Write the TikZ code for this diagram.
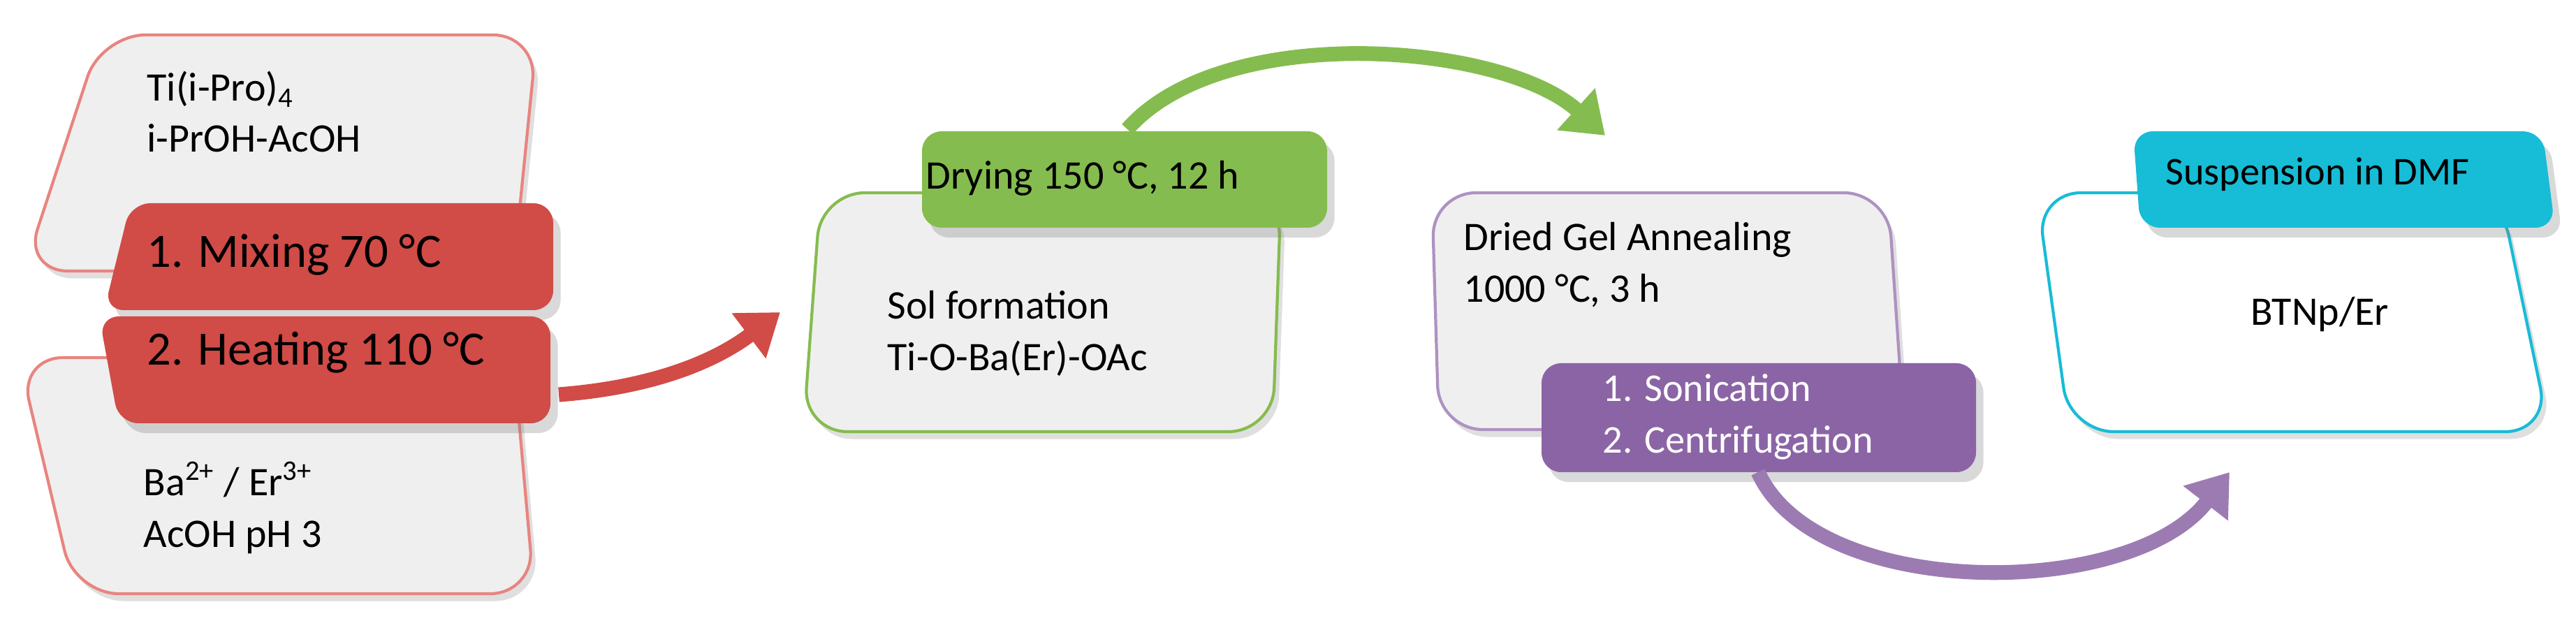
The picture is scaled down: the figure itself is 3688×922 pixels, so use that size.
\documentclass[tikz,border=0pt]{standalone}
\usepackage{fontspec}
\setmainfont{Carlito}
\usetikzlibrary{arrows.meta,shadows}
\definecolor{rd}{HTML}{D14B47}
\definecolor{rdl}{HTML}{E8847F}
\definecolor{gr}{HTML}{85BC4F}
\definecolor{pu}{HTML}{8B64A6}
\definecolor{cy}{HTML}{17BCD6}
\definecolor{bx}{HTML}{EFEFEF}
\tikzset{
 panel/.style={fill=bx,line width=1.2pt,rounded corners=18pt,drop shadow={shadow xshift=2pt,shadow yshift=-3pt,opacity=0.25}},
 tag/.style={line width=0pt,rounded corners=8pt,drop shadow={shadow xshift=3pt,shadow yshift=-4pt,opacity=0.3}},
 txt/.style={font=\fontsize{16.5}{21}\selectfont,anchor=west,inner sep=0pt,align=left},
 btxt/.style={font=\fontsize{19.5}{24}\selectfont,anchor=west,inner sep=0pt,align=left},
 stxt/.style={font=\fontsize{16}{21}\selectfont,inner sep=0pt,align=left},
 flow/.style={line width=6pt,-{Triangle[length=16pt,width=22pt]}}
}
\begin{document}
\begin{tikzpicture}[x=0.01cm,y=-0.01cm]
\useasboundingbox (0,0) rectangle (3688,922);
% left panels
\draw[panel,draw=rdl] (145,50) -- (769,50) -- (735,388) -- (34,388) -- cycle;
\draw[panel,draw=rdl] (27,512) -- (735,512) -- (765,850) -- (107,850) -- cycle;
\fill[tag,rd] (187,291) -- (792,291) -- (792,444) -- (149,444) -- cycle;
\fill[tag,rd] (142,453) -- (788,453) -- (788,606) -- (170,606) -- cycle;
\node[txt] (ti) at (210,160) {Ti(i-Pro)\textsubscript{4}\\i-PrOH-AcOH};
\node[btxt] (mix) at (210,365) {1. Mixing 70 °C};
\node[btxt] (heat) at (210,505) {2. Heating 110 °C};
\node[txt] (ba) at (205,727) {Ba\textsuperscript{2+} / Er\textsuperscript{3+}\\AcOH pH 3};
% sol panel
\draw[panel,draw=gr] (1175,276) -- (1834,276) -- (1822,618) -- (1150,618) -- cycle;
\fill[tag,gr] (1320,188) -- (1900,188) -- (1900,326) -- (1320,326) -- cycle;
\node[txt] (dry) at (1325,255) {Drying 150 °C, 12 h};
\node[txt] (sol) at (1270,477) {Sol formation\\Ti-O-Ba(Er)-OAc};
% gel panel
\draw[panel,draw=pu!70] (2050,276) -- (2703,276) -- (2726,615) -- (2060,615) -- cycle;
\fill[tag,pu] (2207,520) -- (2829,520) -- (2829,676) -- (2207,676) -- cycle;
\node[txt] (gel) at (2095,379) {Dried Gel Annealing\\1000 °C, 3 h};
\node[stxt,anchor=west,text=white] (son) at (2294,597) {1. Sonication\\2. Centrifugation};
% final panel
\draw[panel,fill=white,draw=cy] (2916,276) -- (3579,276) -- (3650,618) -- (2963,618) -- cycle;
\fill[tag,cy] (3054,188) -- (3640,188) -- (3658,326) -- (3064,326) -- cycle;
\node[stxt,anchor=center] (dmf) at (3318,250) {Suspension in DMF};
\node[txt] (btn) at (3222,450) {BTNp/Er};
% arrows
\coordinate (r0) at (800,565); \coordinate (r1) at (1117,447);
\coordinate (g0) at (1614,185); \coordinate (g1) at (2298,194);
\coordinate (p0) at (2517,676); \coordinate (p1) at (3192,676);
\draw[flow,rd] (r0) .. controls (930,555) and (1020,520) .. (r1);
\draw[flow,gr] (g0) .. controls (1750,30) and (2150,60) .. (g1);
\draw[flow,pu!85] (p0) .. controls (2600,860) and (3050,860) .. (p1);
\end{tikzpicture}
\end{document}
